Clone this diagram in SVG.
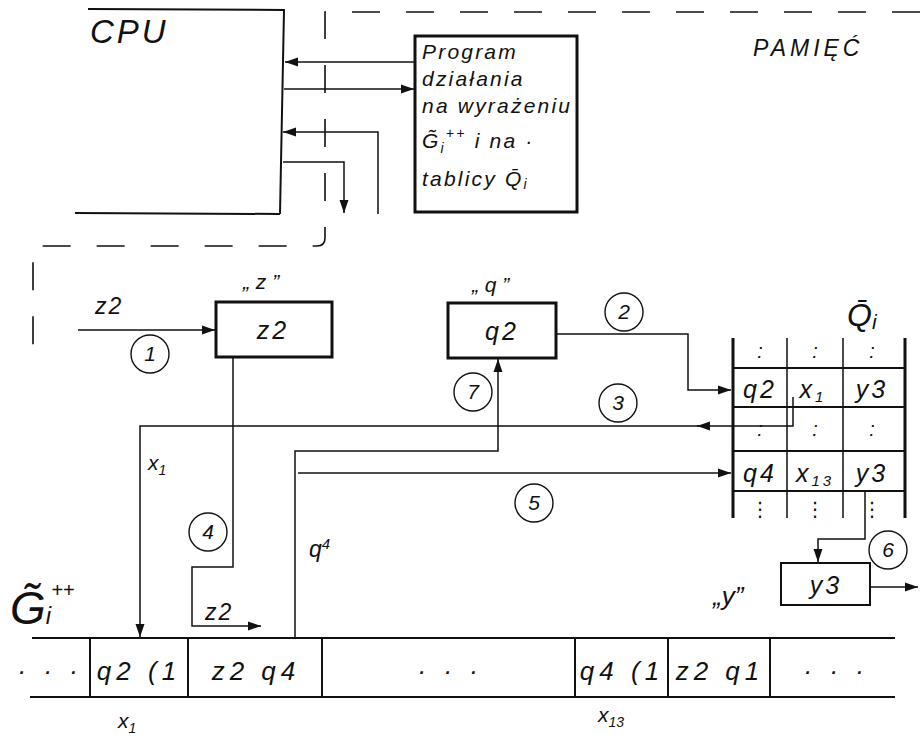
<svg xmlns="http://www.w3.org/2000/svg" width="920" height="740" viewBox="0 0 920 740">
<defs>
<marker id="ah" markerUnits="userSpaceOnUse" markerWidth="14" markerHeight="10" refX="13" refY="5" orient="auto">
<path d="M0,0.5 L13,5 L0,9.5 Z" fill="#111"/>
</marker>
<style>
.t{font-family:"Liberation Sans","DejaVu Sans",sans-serif;font-style:italic;fill:#111}
.ln{fill:none;stroke:#111;stroke-width:1.5}
.thick{fill:none;stroke:#111;stroke-width:3}
.med{fill:none;stroke:#111;stroke-width:2}
.dash{fill:none;stroke:#111;stroke-width:1.6;stroke-dasharray:28 26}
.circ{fill:none;stroke:#111;stroke-width:1.4}
.num{font-size:21px;text-anchor:middle}
.cell{font-size:25px;text-anchor:middle;letter-spacing:3px}
.strip{font-size:26px;text-anchor:middle;letter-spacing:5px}
.prog{font-size:21px;letter-spacing:2.2px}
</style>
</defs>
<rect width="920" height="740" fill="#fff"/>

<!-- memory boundary (dashed) -->
<g id="memory-boundary">
<path class="dash" d="M920,12 H325 V238 Q325,246 317,246 H33 V362"/>
<text class="t" x="753" y="56" font-size="23" letter-spacing="4">PAMIĘĆ</text>
</g>

<g id="cpu">
<path class="med" d="M88,9 L284,10 L280,214 M75,213 L280,214"/>
<text class="t" x="90" y="43" font-size="33" letter-spacing="3">CPU</text>
</g>

<g id="program">
<rect class="thick" x="415" y="36" width="162" height="176"/>
<text class="t prog" x="422" y="59">Program</text>
<text class="t prog" x="422" y="86">działania</text>
<text class="t prog" x="422" y="113">na wyrażeniu</text>
<text class="t prog" x="422" y="148">G̃<tspan font-size="14" dy="5">i</tspan><tspan font-size="14" dy="-15">++</tspan><tspan dy="10"> i na ·</tspan></text>
<text class="t prog" x="422" y="186">tablicy Q̄<tspan font-size="14" dy="3">i</tspan></text>
</g>

<g id="box-z">
<rect class="thick" x="216" y="302" width="116" height="55"/>
<text class="t cell" x="273" y="339">z2</text>
<text class="t" x="243" y="289" font-size="21">„ z ”</text>
</g>

<g id="box-q">
<rect class="thick" x="448" y="303" width="108" height="55"/>
<text class="t cell" x="502" y="340">q2</text>
<text class="t" x="472" y="292" font-size="21">„ q ”</text>
</g>

<g id="box-y">
<rect class="med" x="781" y="563" width="89" height="42"/>
<text class="t cell" x="826" y="594">y3</text>
<text class="t" x="713" y="605" font-size="26">„y”</text>
</g>

<g id="table-Q">
<path class="thick" d="M733,338 V518 M905,338 V518"/>
<path class="ln" d="M787,338 V518 M843,338 V518"/>
<path class="med" d="M733,368 H905 M733,407 H905 M733,451 H905 M733,491 H905"/>
<text class="t" x="847" y="326" font-size="32">Q̄<tspan font-size="21" dy="3">i</tspan></text>
<g class="t" font-size="20" text-anchor="middle">
<text x="760" y="358">:</text><text x="815" y="358">:</text><text x="872" y="358">:</text>
<text x="760" y="436">:</text><text x="815" y="436">:</text><text x="872" y="436">:</text>
<text x="760" y="516">⋮</text><text x="815" y="516">⋮</text><text x="872" y="516">⋮</text>
</g>
<text class="t cell" x="760" y="398">q2</text>
<text class="t cell" x="813" y="398">x<tspan font-size="15" dy="4">1</tspan></text>
<text class="t cell" x="872" y="398">y3</text>
<text class="t cell" x="760" y="482">q4</text>
<text class="t cell" x="815" y="482">x<tspan font-size="15" dy="4">13</tspan></text>
<text class="t cell" x="872" y="482">y3</text>
</g>

<g id="strip-G">
<path class="med" d="M32,638 H895 M30,697 H895"/>
<path class="med" d="M90,638 V697 M188,638 V697 M322,638 V697 M575,638 V697 M668,638 V697 M770,638 V697"/>
<text class="t" x="10" y="624" font-size="46">G̃<tspan font-size="24" dy="0">i</tspan><tspan font-size="20" dy="-27">++</tspan></text>
<text class="t strip" x="50" y="680">· · ·</text>
<text class="t strip" x="139" y="680">q2 (1</text>
<text class="t strip" x="256" y="680">z2 q4</text>
<text class="t strip" x="450" y="680">·   ·   ·</text>
<text class="t strip" x="622" y="680">q4 (1</text>
<text class="t strip" x="720" y="680">z2 q1</text>
<text class="t strip" x="836" y="680">·  ·  ·</text>
<text class="t" x="118" y="728" font-size="21">x<tspan font-size="14" dy="5">1</tspan></text>
<text class="t" x="598" y="722" font-size="21">x<tspan font-size="14" dy="5">13</tspan></text>
</g>

<g id="connectors">
<line class="ln" x1="415" y1="62" x2="285" y2="62" marker-end="url(#ah)"/>
<line class="ln" x1="284" y1="89" x2="414" y2="89" marker-end="url(#ah)"/>
<path class="ln" d="M378,214 V132 H283" marker-end="url(#ah)"/>
<path class="ln" d="M283,162 H344 V213" marker-end="url(#ah)"/>
<line class="ln" x1="78" y1="330" x2="215" y2="330" marker-end="url(#ah)"/>
<path class="ln" d="M556,334 H688 V390 H731" marker-end="url(#ah)"/>
<path class="ln" d="M793,397 V426 H697" marker-end="url(#ah)"/>
<path class="ln" d="M700,426 H140 V637" marker-end="url(#ah)"/>
<path class="ln" d="M233,357 V567 H192 V626 H261" marker-end="url(#ah)"/>
<path class="ln" d="M295,638 V451 H498 V359" marker-end="url(#ah)"/>
<path class="ln" d="M298,473 H731" marker-end="url(#ah)"/>
<path class="ln" d="M865,491 V539 H818 V562" marker-end="url(#ah)"/>
<line class="ln" x1="870" y1="587" x2="918" y2="587" marker-end="url(#ah)"/>
</g>

<g id="labels">
<text class="t" x="95" y="314" font-size="23" letter-spacing="2">z2</text>
<text class="t" x="148" y="470" font-size="21">x<tspan font-size="14" dy="5">1</tspan></text>
<text class="t" x="205" y="620" font-size="23" letter-spacing="2">z2</text>
<text class="t" x="309" y="557" font-size="23">q<tspan font-size="15" dy="-8">4</tspan></text>
<circle class="circ" cx="150" cy="354" r="19"/><text class="t num" x="150" y="361">1</text>
<circle class="circ" cx="624" cy="312" r="19"/><text class="t num" x="624" y="319">2</text>
<circle class="circ" cx="618" cy="403" r="19"/><text class="t num" x="618" y="410">3</text>
<circle class="circ" cx="208" cy="532" r="19"/><text class="t num" x="208" y="539">4</text>
<circle class="circ" cx="534" cy="503" r="19"/><text class="t num" x="534" y="510">5</text>
<circle class="circ" cx="888" cy="550" r="19"/><text class="t num" x="888" y="557">6</text>
<circle class="circ" cx="473" cy="392" r="19"/><text class="t num" x="473" y="399">7</text>
</g>
</svg>
